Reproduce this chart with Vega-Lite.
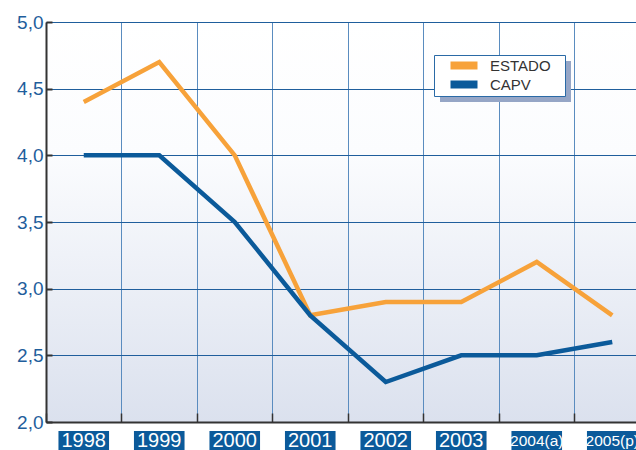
{
  "$schema": "https://vega.github.io/schema/vega-lite/v6.json",
  "autosize": {"type": "none"},
  "width": 590,
  "height": 400,
  "padding": {"left": 46, "top": 22, "right": 0, "bottom": 28},
  "background": "white",
  "config": {
    "view": {
      "stroke": null,
      "fill": {"gradient": "linear", "x1": 0, "y1": 0, "x2": 0, "y2": 1,
        "stops": [{"offset": 0, "color": "#ffffff"}, {"offset": 0.33, "color": "#fbfcfe"}, {"offset": 1, "color": "#dbe1ee"}]}
    },
    "font": "Liberation Sans"
  },
  "datasets": {
    "series": [
      {"year": "1998", "serie": "ESTADO", "grupo": "ESTADO", "value": 4.4},
      {"year": "1999", "serie": "ESTADO", "grupo": "ESTADO", "value": 4.7},
      {"year": "2000", "serie": "ESTADO", "grupo": "ESTADO", "value": 4.0},
      {"year": "2001", "serie": "ESTADO", "grupo": "ESTADO", "value": 2.8},
      {"year": "2002", "serie": "ESTADO", "grupo": "ESTADO", "value": 2.9},
      {"year": "2003", "serie": "ESTADO", "grupo": "ESTADO", "value": 2.9},
      {"year": "2004(a)", "serie": "ESTADO", "grupo": "ESTADO", "value": 3.2},
      {"year": "2005(p)", "serie": "ESTADO", "grupo": "ESTADO", "value": 2.8},
      {"year": "1998", "serie": "CAPV", "grupo": "CAPV", "value": 4.0},
      {"year": "1999", "serie": "CAPV", "grupo": "CAPV", "value": 4.0},
      {"year": "2000", "serie": "CAPV", "grupo": "CAPV", "value": 3.5},
      {"year": "2001", "serie": "CAPV", "grupo": "CAPV", "value": 2.8},
      {"year": "2002", "serie": "CAPV", "grupo": "CAPV", "value": 2.3},
      {"year": "2003", "serie": "CAPV", "grupo": "CAPV", "value": 2.5},
      {"year": "2004(a)", "serie": "CAPV", "grupo": "CAPV", "value": 2.5},
      {"year": "2005(p)", "serie": "CAPV", "grupo": "CAPV", "value": 2.6}
    ],
    "years": [
      {"year": "1998", "narrow": false},
      {"year": "1999", "narrow": false},
      {"year": "2000", "narrow": false},
      {"year": "2001", "narrow": false},
      {"year": "2002", "narrow": false},
      {"year": "2003", "narrow": false},
      {"year": "2004(a)", "narrow": true},
      {"year": "2005(p)", "narrow": true}
    ]
  },
  "encoding": {
    "x": {
      "field": "year", "type": "nominal",
      "sort": ["1998", "1999", "2000", "2001", "2002", "2003", "2004(a)", "2005(p)"],
      "scale": {"range": [0, 604], "paddingInner": 0, "paddingOuter": 0},
      "axis": {
        "title": null, "labels": false, "bandPosition": 0,
        "grid": true, "gridColor": "#5a8cbf", "gridWidth": 1,
        "ticks": true, "tickSize": -9, "tickColor": "#333333", "tickWidth": 1.5,
        "domain": true, "domainColor": "#333333", "domainWidth": 2
      }
    }
  },
  "layer": [
    {
      "data": {"name": "series"},
      "mark": {"type": "point", "opacity": 0, "filled": true},
      "encoding": {
        "y": {"field": "value", "type": "quantitative"},
        "shape": {
          "field": "grupo", "type": "nominal",
          "scale": {"domain": ["CAPV", "ESTADO"], "range": ["square", "square"]},
          "legend": {
            "title": null, "orient": "none", "legendX": 394, "legendY": 39, "zindex": 1,
            "fillColor": "#96a6c6", "strokeColor": null, "padding": 3,
            "symbolType": "M-2.7,-0.8H2.7V0.8H-2.7Z", "symbolSize": 100, "symbolStrokeWidth": 0,
            "symbolOpacity": 0, "symbolOffset": 19.5, "labelOffset": 18.5,
            "labelFontSize": 15, "labelColor": "#96a6c6", "labelFont": "Liberation Sans",
            "labelExpr": "datum.label + '\u2002\u2009\u200b'", "rowPadding": 3
          }
        }
      }
    },
    {
      "data": {"name": "series"},
      "mark": {"type": "line", "strokeWidth": 4.5, "strokeJoin": "miter", "strokeCap": "butt"},
      "encoding": {
        "y": {
          "field": "value", "type": "quantitative",
          "scale": {"domain": [2, 5], "nice": false, "zero": false},
          "axis": {
            "title": null, "values": [2, 2.5, 3, 3.5, 4, 4.5, 5],
            "labelExpr": "replace(format(datum.value, '.1f'), '.', ',')",
            "labelColor": "#1f5e9c", "labelFontSize": 19, "labelFont": "Liberation Sans", "labelPadding": 9,
            "grid": true, "gridColor": "#1f5e9c", "gridWidth": 1,
            "ticks": true, "tickSize": -6, "tickColor": "#333333", "tickWidth": 2,
            "domain": true, "domainColor": "#333333", "domainWidth": 2
          }
        },
        "color": {
          "field": "serie", "type": "nominal",
          "scale": {"domain": ["ESTADO", "CAPV"], "range": ["#f7a23a", "#0b5a9a"]},
          "legend": {
            "title": null, "orient": "none", "legendX": 388, "legendY": 33, "zindex": 2,
            "fillColor": "#ffffff", "strokeColor": "#2a6aa6", "padding": 3,
            "symbolType": "M-2.7,-0.8H2.7V0.8H-2.7Z", "symbolSize": 100, "symbolStrokeWidth": 0,
            "symbolOffset": 19.5, "labelOffset": 18.5,
            "labelFontSize": 15, "labelColor": "#333333", "labelFont": "Liberation Sans",
            "labelExpr": "datum.label + '\u2002\u2009\u200b'", "rowPadding": 3,
            "encode": {"symbols": {"update": {"fill": {"scale": "color", "field": "value"}, "fillOpacity": {"value": 1}}}}
          }
        }
      }
    },
    {
      "data": {"name": "years"},
      "mark": {"type": "bar", "color": "#0b5a9a", "width": {"band": 0.67}},
      "encoding": {
        "y": {"datum": 1.9325, "type": "quantitative"},
        "y2": {"datum": 1.76}
      }
    },
    {
      "data": {"name": "years"},
      "transform": [{"filter": "!datum.narrow"}],
      "mark": {"type": "text", "color": "#ffffff", "fontSize": 20, "font": "Liberation Sans", "baseline": "middle"},
      "encoding": {
        "y": {"datum": 1.8575, "type": "quantitative"},
        "text": {"field": "year"}
      }
    },
    {
      "data": {"name": "years"},
      "transform": [{"filter": "datum.narrow"}],
      "mark": {"type": "text", "color": "#ffffff", "fontSize": 15.5, "font": "Liberation Sans", "baseline": "middle"},
      "encoding": {
        "y": {"datum": 1.8575, "type": "quantitative"},
        "text": {"field": "year"}
      }
    }
  ]
}
